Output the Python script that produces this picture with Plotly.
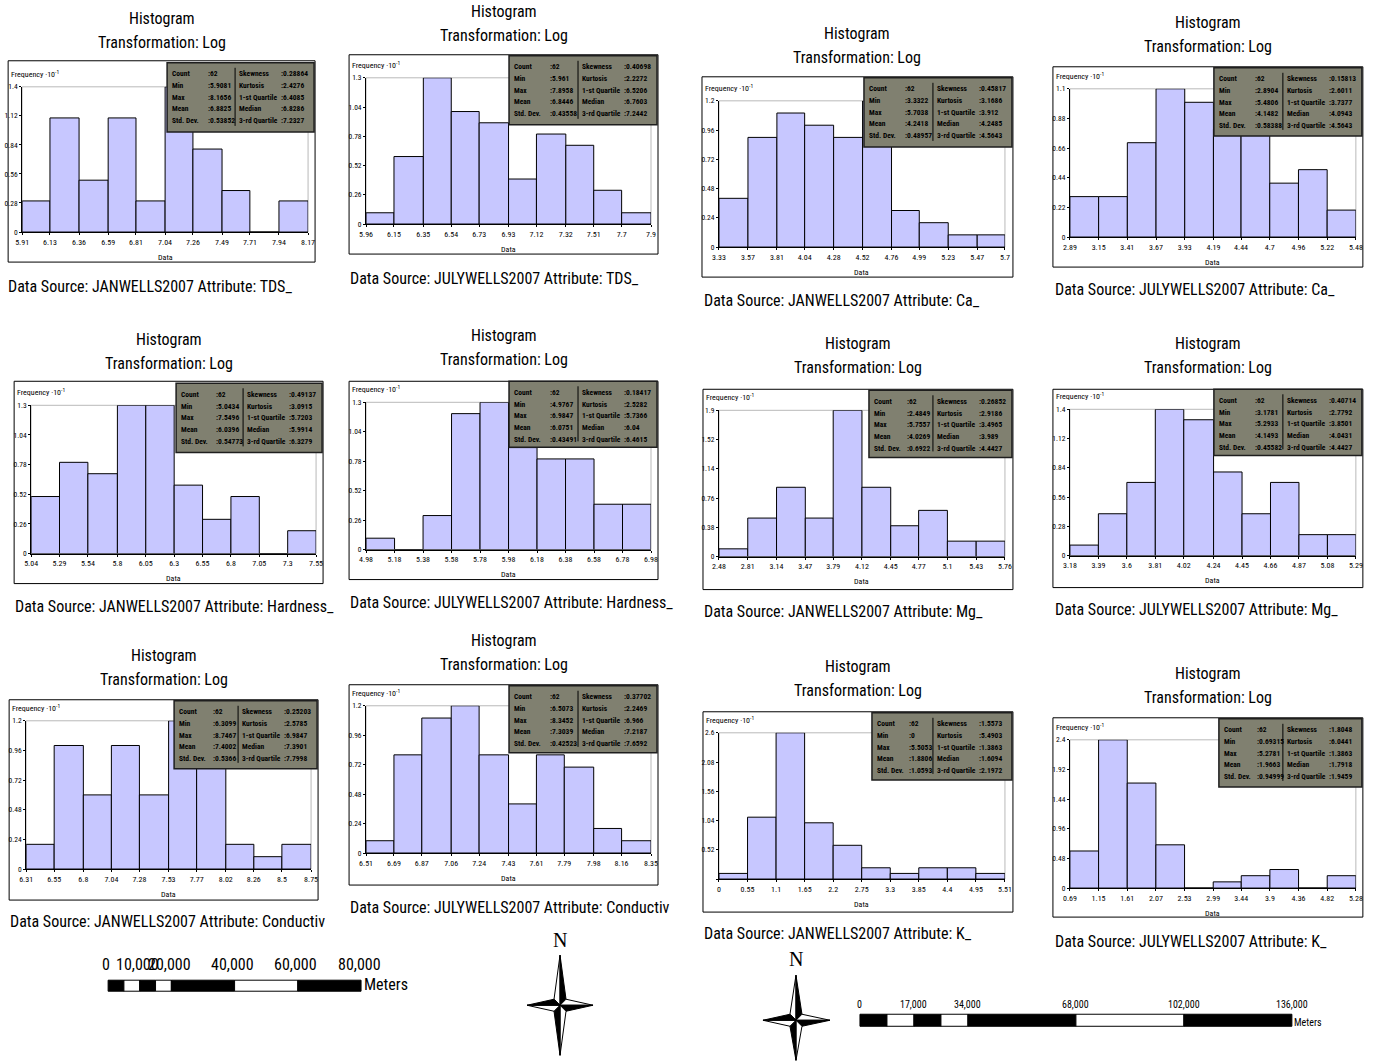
import plotly.graph_objects as go

W, H = 1374, 1063

# ---------------- DATA ----------------
sources = ["JANWELLS2007", "JULYWELLS2007", "JANWELLS2007", "JULYWELLS2007",
           "JANWELLS2007", "JULYWELLS2007", "JANWELLS2007", "JULYWELLS2007",
           "JANWELLS2007", "JULYWELLS2007", "JANWELLS2007", "JULYWELLS2007"]
attributes = ["TDS_", "TDS_", "Ca_", "Ca_", "Hardness_", "Hardness_",
              "Mg_", "Mg_", "Conductiv", "Conductiv", "K_", "K_"]

edges_tds_jan = ["5.91", "6.13", "6.36", "6.59", "6.81", "7.04", "7.26", "7.49", "7.71", "7.94", "8.17"]
edges_tds_jul = ["5.96", "6.15", "6.35", "6.54", "6.73", "6.93", "7.12", "7.32", "7.51", "7.7", "7.9"]
edges_ca_jan = ["3.33", "3.57", "3.81", "4.04", "4.28", "4.52", "4.76", "4.99", "5.23", "5.47", "5.7"]
edges_ca_jul = ["2.89", "3.15", "3.41", "3.67", "3.93", "4.19", "4.44", "4.7", "4.96", "5.22", "5.48"]
edges_hard_jan = ["5.04", "5.29", "5.54", "5.8", "6.05", "6.3", "6.55", "6.8", "7.05", "7.3", "7.55"]
edges_hard_jul = ["4.98", "5.18", "5.38", "5.58", "5.78", "5.98", "6.18", "6.38", "6.58", "6.78", "6.98"]
edges_mg_jan = ["2.48", "2.81", "3.14", "3.47", "3.79", "4.12", "4.45", "4.77", "5.1", "5.43", "5.76"]
edges_mg_jul = ["3.18", "3.39", "3.6", "3.81", "4.02", "4.24", "4.45", "4.66", "4.87", "5.08", "5.29"]
edges_cond_jan = ["6.31", "6.55", "6.8", "7.04", "7.28", "7.53", "7.77", "8.02", "8.26", "8.5", "8.75"]
edges_cond_jul = ["6.51", "6.69", "6.87", "7.06", "7.24", "7.43", "7.61", "7.79", "7.98", "8.16", "8.35"]
edges_k_jan = ["0", "0.55", "1.1", "1.65", "2.2", "2.75", "3.3", "3.85", "4.4", "4.95", "5.51"]
edges_k_jul = ["0.69", "1.15", "1.61", "2.07", "2.53", "2.99", "3.44", "3.9", "4.36", "4.82", "5.28"]

# frequency (x 10^-1)
freq_tds_jan = [0.3, 1.1, 0.5, 1.1, 0.3, 1.4, 0.8, 0.4, 0.0, 0.3]
freq_tds_jul = [0.1, 0.6, 1.3, 1.0, 0.9, 0.4, 0.8, 0.7, 0.3, 0.1]
freq_ca_jan = [0.4, 0.9, 1.1, 1.0, 0.9, 1.2, 0.3, 0.2, 0.1, 0.1]
freq_ca_jul = [0.3, 0.3, 0.7, 1.1, 1.0, 0.8, 0.9, 0.4, 0.5, 0.2]
freq_hard_jan = [0.5, 0.8, 0.7, 1.3, 1.3, 0.6, 0.3, 0.5, 0.0, 0.2]
freq_hard_jul = [0.1, 0.0, 0.3, 1.2, 1.3, 0.9, 0.8, 0.8, 0.4, 0.4]
freq_mg_jan = [0.1, 0.5, 0.9, 0.5, 1.9, 0.9, 0.4, 0.6, 0.2, 0.2]
freq_mg_jul = [0.1, 0.4, 0.7, 1.4, 1.3, 0.8, 0.4, 0.7, 0.2, 0.2]
freq_cond_jan = [0.2, 1.0, 0.6, 1.0, 0.6, 1.2, 1.1, 0.2, 0.1, 0.2]
freq_cond_jul = [0.1, 0.8, 1.1, 1.2, 0.8, 0.4, 0.8, 0.7, 0.2, 0.1]
freq_k_jan = [0.1, 1.1, 2.6, 1.0, 0.6, 0.2, 0.1, 0.2, 0.2, 0.1]
freq_k_jul = [0.6, 2.4, 1.7, 0.7, 0.0, 0.1, 0.2, 0.3, 0.0, 0.2]

yt_a = ["0", "0.28", "0.56", "0.84", "1.12", "1.4"]
yt_b = ["0", "0.26", "0.52", "0.78", "1.04", "1.3"]
yt_c = ["0", "0.24", "0.48", "0.72", "0.96", "1.2"]
yt_d = ["0", "0.22", "0.44", "0.66", "0.88", "1.1"]
yt_e = ["0", "0.38", "0.76", "1.14", "1.52", "1.9"]
yt_f = ["", "0.52", "1.04", "1.56", "2.08", "2.6"]
yt_g = ["0", "0.48", "0.96", "1.44", "1.92", "2.4"]

stat_labels_left = ["Count", "Min", "Max", "Mean", "Std. Dev."]
stat_labels_right = ["Skewness", "Kurtosis", "1-st Quartile", "Median", "3-rd Quartile"]

stats_tds_jan = (["62", "5.9081", "8.1656", "6.8825", "0.53852"], ["0.28864", "2.4276", "6.4085", "6.8286", "7.2327"])
stats_tds_jul = (["62", "5.961", "7.8958", "6.8446", "0.43558"], ["0.40698", "2.2272", "6.5206", "6.7603", "7.2442"])
stats_ca_jan = (["62", "3.3322", "5.7038", "4.2418", "0.48957"], ["0.45817", "3.1686", "3.912", "4.2485", "4.5643"])
stats_ca_jul = (["62", "2.8904", "5.4806", "4.1482", "0.58388"], ["0.15813", "2.6011", "3.7377", "4.0943", "4.5643"])
stats_hard_jan = (["62", "5.0434", "7.5496", "6.0396", "0.54773"], ["0.49137", "3.0915", "5.7203", "5.9914", "6.3279"])
stats_hard_jul = (["62", "4.9767", "6.9847", "6.0751", "0.43491"], ["0.18417", "2.5282", "5.7366", "6.04", "6.4615"])
stats_mg_jan = (["62", "2.4849", "5.7557", "4.0269", "0.6922"], ["0.26852", "2.9186", "3.4965", "3.989", "4.4427"])
stats_mg_jul = (["62", "3.1781", "5.2933", "4.1493", "0.45582"], ["0.40714", "2.7792", "3.8501", "4.0431", "4.4427"])
stats_cond_jan = (["62", "6.3099", "8.7467", "7.4002", "0.5366"], ["0.25203", "2.5785", "6.9847", "7.3901", "7.7998"])
stats_cond_jul = (["62", "6.5073", "8.3452", "7.3039", "0.42523"], ["0.37702", "2.2469", "6.966", "7.2187", "7.6592"])
stats_k_jan = (["62", "0", "5.5053", "1.8806", "1.0593"], ["1.5573", "5.4903", "1.3863", "1.6094", "2.1972"])
stats_k_jul = (["62", "0.69315", "5.2781", "1.9663", "0.94999"], ["1.8048", "6.0441", "1.3863", "1.7918", "1.9459"])

scale_left_values = [0, 10000, 20000, 40000, 60000, 80000]
scale_left_labels = ["0", "10,000", "20,000", "40,000", "60,000", "80,000"]
scale_right_values = [0, 17000, 34000, 68000, 102000, 136000]
scale_right_labels = ["0", "17,000", "34,000", "68,000", "102,000", "136,000"]

edges_all = [edges_tds_jan, edges_tds_jul, edges_ca_jan, edges_ca_jul, edges_hard_jan, edges_hard_jul,
             edges_mg_jan, edges_mg_jul, edges_cond_jan, edges_cond_jul, edges_k_jan, edges_k_jul]
freq_all = [freq_tds_jan, freq_tds_jul, freq_ca_jan, freq_ca_jul, freq_hard_jan, freq_hard_jul,
            freq_mg_jan, freq_mg_jul, freq_cond_jan, freq_cond_jul, freq_k_jan, freq_k_jul]
yticks_all = [yt_a, yt_b, yt_c, yt_d, yt_b, yt_b, yt_e, yt_a, yt_c, yt_c, yt_f, yt_g]
stats_all = [stats_tds_jan, stats_tds_jul, stats_ca_jan, stats_ca_jul, stats_hard_jan, stats_hard_jul,
             stats_mg_jan, stats_mg_jul, stats_cond_jan, stats_cond_jul, stats_k_jan, stats_k_jul]

# ---------------- LAYOUT GEOMETRY (target pixels) ----------------
frames = [(8, 62, 315, 263), (349, 56, 658, 255), (702, 78, 1013, 278), (1053, 68, 1363, 268),
          (14, 382, 323, 584), (349, 382, 658, 580), (703, 390, 1013, 590), (1053, 390, 1363, 588),
          (9, 700, 318, 900), (349, 685, 658, 885), (703, 712, 1013, 912), (1053, 718, 1363, 917)]
plots = [(22, 88, 308, 233), (366, 79, 651, 225), (719, 102, 1005, 248), (1070, 90, 1356, 238),
         (31, 406, 316, 554), (366, 403, 651, 550), (719, 411, 1005, 557), (1070, 410, 1356, 556),
         (26, 721, 311, 869), (366, 706, 651, 853), (719, 733, 1005, 879), (1070, 740, 1356, 888)]
boxes = [(167, 64, 314, 133), (509, 57, 657, 126), (864, 79, 1012, 148), (1214, 69, 1362, 137),
         (176, 384, 322, 453), (509, 382, 657, 448), (869, 391, 1012, 458), (1214, 390, 1362, 456),
         (174, 701, 317, 769), (509, 686, 657, 753), (872, 713, 1012, 780), (1219, 719, 1362, 787)]
hist_y = [20, 13, 35, 24, 340, 336, 344, 344, 656, 641, 667, 674]
cap_pos = [(6, 287), (348, 279), (702, 301), (1053, 290), (13, 607), (348, 603),
           (702, 612), (1053, 610), (8, 921), (348, 907), (702, 933), (1053, 941)]

NARROW = "Liberation Sans Narrow, Arial Narrow, Roboto Condensed, DejaVu Sans Condensed, sans-serif"
BAR = "rgb(199,199,255)"
BOXFILL = "rgb(128,128,112)"

# the captured picture is shrunk ~1% about its centre; place marks so they land on target pixels
S = 0.99
CXP, CYP = W / 2, H / 2


def px(x):
    return (CXP + (x - CXP) / S) / W


def py(y):
    return 1 - (CYP + (y - CYP) / S) / H


fig = go.Figure()
shapes, annos = [], []
layout_axes = {}

for i in range(12):
    k = i + 1
    sfx = "" if k == 1 else str(k)
    edges = [float(v) for v in edges_all[i]]
    mids = [(edges[j] + edges[j + 1]) / 2 for j in range(10)]
    widths = [edges[j + 1] - edges[j] for j in range(10)]
    fig.add_trace(go.Bar(
        x=mids, y=freq_all[i], width=widths,
        marker=dict(color=BAR, line=dict(color="black", width=1)),
        xaxis="x" + sfx, yaxis="y" + sfx, showlegend=False, hoverinfo="skip"))
    l, t, r, b = plots[i]
    ylabels = yticks_all[i]
    yvals = [float(v) if v else 0.0 for v in ylabels]
    layout_axes["xaxis" + sfx] = dict(
        domain=[px(l), px(r)], anchor="y" + sfx, range=[edges[0], edges[-1]],
        tickvals=edges, ticktext=edges_all[i], showgrid=False, zeroline=False,
        showline=True, linecolor="black", linewidth=1, ticks="outside", ticklen=2,
        tickcolor="black", tickfont=dict(family=NARROW, size=8, color="black"), fixedrange=True)
    layout_axes["yaxis" + sfx] = dict(
        domain=[py(b), py(t)], anchor="x" + sfx, range=[0, yvals[-1]],
        tickvals=yvals, ticktext=ylabels, showgrid=False, zeroline=False,
        showline=True, linecolor="black", linewidth=1, ticks="outside", ticklen=2,
        tickcolor="black", tickfont=dict(family=NARROW, size=7.5, color="black"), fixedrange=True)

    # grey plot border (top/right)
    shapes.append(dict(type="rect", xref="paper", yref="paper", x0=px(l), x1=px(r), y0=py(b), y1=py(t),
                       line=dict(color="rgb(185,185,185)", width=1), layer="below"))
    # frame
    fl, ft, fr, fb = frames[i]
    shapes.append(dict(type="rect", xref="paper", yref="paper", x0=px(fl), x1=px(fr), y0=py(fb), y1=py(ft),
                       line=dict(color="black", width=1), layer="below"))
    # stats box
    bl, bt, br, bb = boxes[i]
    shapes.append(dict(type="rect", xref="paper", yref="paper", x0=px(bl), x1=px(br), y0=py(bb), y1=py(bt),
                       fillcolor=BOXFILL, line=dict(color="rgb(30,30,30)", width=1.5), layer="above"))
    div = br - 79
    shapes.append(dict(type="line", xref="paper", yref="paper", x0=px(div), x1=px(div),
                       y0=py(bb - 6), y1=py(bt + 5), line=dict(color="black", width=1), layer="above"))
    c1v = bl + 0.57 * (div - bl)
    left_vals, right_vals = stats_all[i]
    for j in range(5):
        yy = py(bt + 11 + 11.7 * j)
        for xx, txt in [(bl + 3, stat_labels_left[j]), (c1v, ":" + left_vals[j]),
                        (div + 2, stat_labels_right[j]), (br - 35, ":" + right_vals[j])]:
            annos.append(dict(x=px(xx), y=yy, xref="paper", yref="paper", text="<b>" + txt + "</b>",
                              showarrow=False, xanchor="left", yanchor="middle",
                              font=dict(family=NARROW, size=7.5, color="black")))
    # frequency label and Data label
    annos.append(dict(x=px(fl + 1), y=py(t - 13), xref="paper", yref="paper",
                      text="Frequency ·10<sup>-1</sup>", showarrow=False, xanchor="left", yanchor="middle",
                      font=dict(family=NARROW, size=8, color="black")))
    annos.append(dict(x=px((l + r) / 2), y=py(b + 25), xref="paper", yref="paper", text="Data",
                      showarrow=False, xanchor="center", yanchor="middle",
                      font=dict(family=NARROW, size=8, color="black")))
    # titles
    cx = (fl + fr) / 2
    annos.append(dict(x=px(cx), y=py(hist_y[i]), xref="paper", yref="paper", text="Histogram",
                      showarrow=False, xanchor="center", yanchor="middle",
                      font=dict(family=NARROW, size=16, color="black")))
    annos.append(dict(x=px(cx), y=py(hist_y[i] + 24), xref="paper", yref="paper", text="Transformation: Log",
                      showarrow=False, xanchor="center", yanchor="middle",
                      font=dict(family=NARROW, size=16, color="black")))
    # caption
    cxp, cyp = cap_pos[i]
    annos.append(dict(x=px(cxp), y=py(cyp), xref="paper", yref="paper",
                      text=f"Data Source: {sources[i]} Attribute: {attributes[i]}",
                      showarrow=False, xanchor="left", yanchor="middle",
                      font=dict(family=NARROW, size=16, color="black")))


# ---------------- scale bars ----------------
def scale_bar(x0, x1, vmax, seg_vals, y0, y1):
    for j in range(len(seg_vals) - 1):
        a = x0 + (x1 - x0) * seg_vals[j] / vmax
        c = x0 + (x1 - x0) * seg_vals[j + 1] / vmax
        shapes.append(dict(type="rect", xref="paper", yref="paper", x0=px(a), x1=px(c), y0=py(y1), y1=py(y0),
                           fillcolor="black" if j % 2 == 0 else "white", line=dict(color="black", width=1)))


scale_bar(108, 361, 80000, [0, 5000, 10000, 15000, 20000, 40000, 60000, 80000], 980, 991)
for v, lab in zip(scale_left_values, scale_left_labels):
    xx = 108 + (361 - 108) * v / 80000
    annos.append(dict(x=px(xx - 2), y=py(964), xref="paper", yref="paper", text=lab, showarrow=False,
                      xanchor="center", yanchor="middle",
                      font=dict(family=NARROW, size=16, color="black")))
annos.append(dict(x=px(362), y=py(984), xref="paper", yref="paper", text="Meters", showarrow=False,
                  xanchor="left", yanchor="middle", font=dict(family=NARROW, size=16, color="black")))

scale_bar(860, 1292, 136000, [0, 8500, 17000, 25500, 34000, 68000, 102000, 136000], 1014, 1026)
for v, lab in zip(scale_right_values, scale_right_labels):
    xx = 860 + (1292 - 860) * v / 136000
    annos.append(dict(x=px(xx), y=py(1004), xref="paper", yref="paper", text=lab, showarrow=False,
                      xanchor="center", yanchor="middle",
                      font=dict(family=NARROW, size=10, color="black")))
annos.append(dict(x=px(1292), y=py(1022), xref="paper", yref="paper", text="Meters", showarrow=False,
                  xanchor="left", yanchor="middle", font=dict(family=NARROW, size=10, color="black")))


# ---------------- north arrows ----------------
def tri(pts, fill):
    d = "M " + " L ".join(f"{px(a):.5f},{py(b):.5f}" for a, b in pts) + " Z"
    shapes.append(dict(type="path", path=d, xref="paper", yref="paper", fillcolor=fill,
                       line=dict(color="black", width=1)))


def star(cx, cy, n, s, e, w, d):
    arms = [((cx, cy - n), (cx - d, cy - d), (cx + d, cy - d)),
            ((cx + e, cy), (cx + d, cy - d), (cx + d, cy + d)),
            ((cx, cy + s), (cx + d, cy + d), (cx - d, cy + d)),
            ((cx - w, cy), (cx - d, cy + d), (cx - d, cy - d))]
    for tip, a, b in arms:
        tri([(cx, cy), tip, a], "white")
        tri([(cx, cy), tip, b], "black")


star(560, 1005, 50, 50, 33, 33, 6)
star(796, 1020, 45, 40, 34, 33, 6)
annos.append(dict(x=px(560), y=py(940), xref="paper", yref="paper", text="N", showarrow=False,
                  xanchor="center", yanchor="middle", font=dict(family="Liberation Serif, serif", size=20, color="black")))
annos.append(dict(x=px(796), y=py(959), xref="paper", yref="paper", text="N", showarrow=False,
                  xanchor="center", yanchor="middle", font=dict(family="Liberation Serif, serif", size=20, color="black")))

fig.update_layout(width=W, height=H, margin=dict(l=0, r=0, t=0, b=0), paper_bgcolor="white",
                  plot_bgcolor="white", bargap=0, shapes=shapes, annotations=annos, showlegend=False,
                  **layout_axes)

fig.write_html("out.html", config={"displayModeBar": False, "staticPlot": True},
               post_script="document.body.style.margin='0';document.body.style.overflow='hidden';")
